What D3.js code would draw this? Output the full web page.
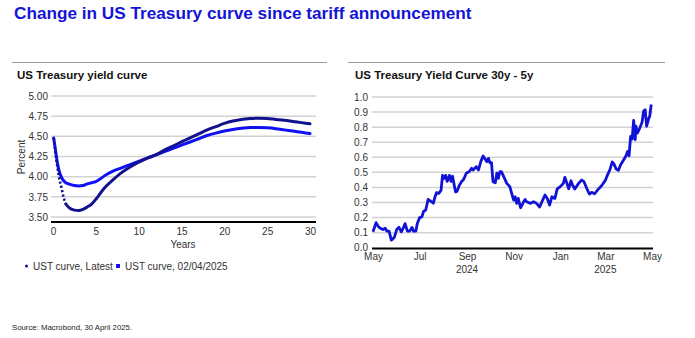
<!DOCTYPE html>
<html><head><meta charset="utf-8">
<script src="https://cdn.jsdelivr.net/npm/d3@7"></script>
<style>
html,body{margin:0;padding:0;background:#fff;}
svg{display:block;font-family:"Liberation Sans",Arial,sans-serif;}
</style></head>
<body>
<svg id="c" width="695" height="338"></svg>
<script>
// ---- Left chart data: maturities (years) and yields (%)
const maturitiesLatest = [0.08,0.25,0.5,0.75,1,1.25,1.5,2,2.5,3,3.5,4,4.5,5,5.5,6,7,8,9,10,11,12,13,14,15,16,17,18,19,20,21,22,23,24,25,26,27,28,29,30];
const yieldsLatest     = [4.48,4.33,4.13,3.97,3.86,3.74,3.66,3.605,3.585,3.58,3.595,3.625,3.66,3.72,3.79,3.86,3.96,4.05,4.12,4.18,4.23,4.27,4.33,4.38,4.43,4.48,4.53,4.58,4.62,4.66,4.69,4.71,4.72,4.725,4.72,4.71,4.70,4.685,4.67,4.655];
const maturitiesBase   = [0.08,0.25,0.5,0.75,1,1.25,1.5,2,2.5,3,3.5,4,4.5,5,5.5,6,7,8,9,10,11,12,13,14,15,16,17,18,19,20,21,22,23,24,25,26,27,28,29,30];
const yieldsBase       = [4.48,4.36,4.18,4.06,3.99,3.95,3.925,3.905,3.89,3.885,3.89,3.91,3.925,3.94,3.97,4.01,4.07,4.11,4.15,4.19,4.23,4.27,4.31,4.35,4.39,4.43,4.47,4.51,4.54,4.565,4.585,4.60,4.61,4.61,4.605,4.595,4.58,4.565,4.55,4.535];
const leftYTicks = [3.50,3.75,4.00,4.25,4.50,4.75,5.00];
const leftXTicks = [0,5,10,15,20,25,30];
const seriesNames = ["UST curve, Latest","UST curve, 02/04/2025"];

// ---- Right chart data: 30y - 5y spread
const spreadDates = ["2024-05-01","2024-05-05","2024-05-08","2024-05-10","2024-05-14","2024-05-17","2024-05-19","2024-05-22","2024-05-25","2024-05-29",
"2024-06-01","2024-06-04","2024-06-07","2024-06-10","2024-06-12","2024-06-15","2024-06-18","2024-06-21","2024-06-23","2024-06-26","2024-06-28",
"2024-07-01","2024-07-04","2024-07-06","2024-07-09","2024-07-12","2024-07-15","2024-07-19","2024-07-21","2024-07-23","2024-07-26","2024-07-29","2024-07-31",
"2024-08-02","2024-08-04","2024-08-06","2024-08-09","2024-08-11","2024-08-13","2024-08-17","2024-08-19","2024-08-22","2024-08-25","2024-08-27","2024-08-29","2024-08-31",
"2024-09-04","2024-09-07","2024-09-09","2024-09-13","2024-09-16","2024-09-19","2024-09-22","2024-09-25","2024-09-27","2024-09-29",
"2024-10-01","2024-10-03","2024-10-05","2024-10-08","2024-10-10","2024-10-12","2024-10-14","2024-10-16","2024-10-19","2024-10-21","2024-10-23","2024-10-27","2024-10-30",
"2024-11-01","2024-11-03","2024-11-05","2024-11-07","2024-11-10","2024-11-12","2024-11-14","2024-11-16","2024-11-18","2024-11-23","2024-11-27",
"2024-12-01","2024-12-05","2024-12-08","2024-12-12","2024-12-15","2024-12-18","2024-12-21","2024-12-25","2024-12-28",
"2025-01-01","2025-01-05","2025-01-07","2025-01-09","2025-01-12","2025-01-15","2025-01-17","2025-01-20","2025-01-25","2025-01-29",
"2025-02-01","2025-02-05","2025-02-08","2025-02-11","2025-02-15","2025-02-20","2025-02-24",
"2025-03-01","2025-03-04","2025-03-07","2025-03-10","2025-03-12","2025-03-15","2025-03-18","2025-03-21","2025-03-25","2025-03-28","2025-03-30",
"2025-04-01","2025-04-03","2025-04-05","2025-04-07","2025-04-09","2025-04-10","2025-04-12","2025-04-15","2025-04-18","2025-04-20","2025-04-22","2025-04-24","2025-04-27","2025-04-28","2025-04-30"];
const spreadValues = [0.106,0.166,0.14,0.13,0.12,0.13,0.11,0.11,0.05,0.07,
0.12,0.135,0.105,0.135,0.16,0.11,0.11,0.135,0.11,0.11,0.16,
0.20,0.205,0.24,0.25,0.32,0.31,0.295,0.335,0.365,0.36,0.38,0.48,
0.46,0.48,0.44,0.48,0.44,0.475,0.37,0.375,0.415,0.44,0.449,0.47,0.494,
0.505,0.527,0.516,0.538,0.516,0.571,0.608,0.586,0.571,0.593,
0.564,0.564,0.438,0.431,0.494,0.46,0.505,0.505,0.472,0.449,0.427,0.405,0.35,
0.316,0.338,0.294,0.327,0.265,0.283,0.305,0.32,0.305,0.294,0.305,
0.294,0.27,0.305,0.35,0.327,0.283,0.338,0.327,0.39,
0.405,0.427,0.467,0.438,0.39,0.444,0.416,0.39,0.427,0.449,
0.438,0.39,0.356,0.367,0.358,0.39,0.411,
0.447,0.485,0.518,0.569,0.558,0.523,0.513,0.551,0.584,0.61,0.638,
0.61,0.739,0.721,0.845,0.717,0.806,0.761,0.794,0.832,0.905,0.916,0.806,0.861,0.872,0.95];
const rightYTicks = [0,0.1,0.2,0.3,0.4,0.5,0.6,0.7,0.8,0.9,1.0];
const monthTicks = ["2024-05-01","2024-07-01","2024-09-01","2024-11-01","2025-01-01","2025-03-01","2025-05-01"];
const monthLabels = ["May","Jul","Sep","Nov","Jan","Mar","May"];
const yearLabels = ["","","2024","","","2025",""];

const svg = d3.select("#c");
const cNavy = "#12128e", cBlue = "#1010f5", cLine = "#1212d4";
const gridC = "#d2d2d2", tickC = "#333";

// Main title
svg.append("text").attr("x",14).attr("y",19).attr("fill","#1414d6")
  .attr("font-size",17.2).attr("font-weight","bold")
  .text("Change in US Treasury curve since tariff announcement");

// panel top rules
svg.append("line").attr("x1",12).attr("x2",327).attr("y1",62.5).attr("y2",62.5).attr("stroke","#9a9a9a").attr("stroke-width",1.2);
svg.append("line").attr("x1",348).attr("x2",665).attr("y1",62.5).attr("y2",62.5).attr("stroke","#9a9a9a").attr("stroke-width",1.2);

svg.append("text").attr("x",17).attr("y",79).attr("font-size",11.5).attr("font-weight","bold").attr("fill","#111").text("US Treasury yield curve");
svg.append("text").attr("x",355).attr("y",79).attr("font-size",11.5).attr("font-weight","bold").attr("fill","#111").text("US Treasury Yield Curve 30y - 5y");

// ---- Left chart
const xL = d3.scaleLinear().domain([0,30]).range([53,310]);
const yL = d3.scaleLinear().domain([3.5,5]).range([217,96]);
const gL = svg.append("g");
gL.selectAll("line.grid").data(leftYTicks).join("line")
  .attr("x1",51).attr("x2",316).attr("y1",d=>yL(d)).attr("y2",d=>yL(d))
  .attr("stroke",gridC).attr("stroke-width",1.5);
gL.append("line").attr("x1",51).attr("x2",316).attr("y1",222).attr("y2",222).attr("stroke","#000").attr("stroke-width",2);

const yAxL = d3.axisLeft(yL).tickValues(leftYTicks).tickFormat(d3.format(".2f")).tickSize(0).tickPadding(0);
const gyL = svg.append("g").attr("transform","translate(48,0)").call(yAxL);
gyL.select(".domain").remove();
gyL.selectAll("text").attr("font-size",10).attr("fill",tickC).attr("font-family","Liberation Sans, Arial, sans-serif");

const xAxL = d3.axisBottom(xL).tickValues(leftXTicks).tickSize(0).tickPadding(0);
const gxL = svg.append("g").attr("transform","translate(0,228)").call(xAxL);
gxL.select(".domain").remove();
gxL.selectAll("text").attr("font-size",10).attr("fill",tickC).attr("font-family","Liberation Sans, Arial, sans-serif");

svg.append("text").attr("x",183).attr("y",248).attr("text-anchor","middle").attr("font-size",10).attr("fill",tickC).text("Years");
svg.append("text").attr("transform","translate(25,157) rotate(-90)").attr("text-anchor","middle").attr("font-size",10).attr("fill",tickC).text("Percent");

const lineL = d3.line().x(d=>xL(d[0])).y(d=>yL(d[1])).curve(d3.curveMonotoneX);
const baseData = maturitiesBase.map((m,i)=>[m,yieldsBase[i]]);
const latestData = maturitiesLatest.map((m,i)=>[m,yieldsLatest[i]]);
svg.append("path").datum(baseData).attr("d",lineL).attr("fill","none").attr("stroke",cBlue).attr("stroke-width",3).attr("stroke-linecap","round");
// short end of latest curve is drawn as sparse dots in the reference
svg.append("path").datum(latestData.filter(d=>d[0]<=1.5)).attr("d",lineL).attr("fill","none").attr("stroke",cNavy).attr("stroke-width",2.6).attr("stroke-dasharray","2.2,2.2");
svg.append("path").datum(latestData.filter(d=>d[0]>=1.5)).attr("d",lineL).attr("fill","none").attr("stroke",cNavy).attr("stroke-width",3).attr("stroke-linecap","round");

// legend
svg.append("circle").attr("cx",26.5).attr("cy",266).attr("r",1.5).attr("fill",cNavy);
svg.append("text").attr("x",33).attr("y",269.5).attr("font-size",10).attr("fill",tickC).text(seriesNames[0]);
svg.append("rect").attr("x",116).attr("y",264).attr("width",4).attr("height",4).attr("fill",cBlue);
svg.append("text").attr("x",125).attr("y",269.5).attr("font-size",10).attr("fill",tickC).text(seriesNames[1]);

// ---- Right chart
const parse = d3.timeParse("%Y-%m-%d");
const xR = d3.scaleTime().domain([parse("2024-05-01"),parse("2025-05-01")]).range([373,652]);
const yR = d3.scaleLinear().domain([0,1]).range([247.7,97]);
const gR = svg.append("g");
gR.selectAll("line.grid").data(rightYTicks.slice(1)).join("line")
  .attr("x1",372).attr("x2",653).attr("y1",d=>yR(d)).attr("y2",d=>yR(d))
  .attr("stroke",gridC).attr("stroke-width",1.5);

const yAxR = d3.axisLeft(yR).tickValues(rightYTicks).tickFormat(d3.format(".1f")).tickSize(0).tickPadding(0);
const gyR = svg.append("g").attr("transform","translate(368,0)").call(yAxR);
gyR.select(".domain").remove();
gyR.selectAll("text").attr("font-size",10).attr("fill",tickC).attr("font-family","Liberation Sans, Arial, sans-serif");

const xAxR = d3.axisBottom(xR).tickValues(monthTicks.map(parse)).tickFormat((d,i)=>monthLabels[i]).tickSize(0).tickPadding(0);
const gxR = svg.append("g").attr("transform","translate(0,253)").call(xAxR);
gxR.select(".domain").remove();
gxR.selectAll("text").attr("font-size",10).attr("fill",tickC).attr("font-family","Liberation Sans, Arial, sans-serif");
svg.append("g").selectAll("text").data(monthTicks).join("text")
  .attr("x",d=>xR(parse(d))).attr("y",273).attr("text-anchor","middle").attr("font-size",10).attr("fill",tickC)
  .text((d,i)=>yearLabels[i]);

const spreadData = spreadDates.map((d,i)=>[parse(d),spreadValues[i]]);
const lineR = d3.line().x(d=>xR(d[0])).y(d=>yR(d[1]));
svg.append("path").datum(spreadData).attr("d",lineR).attr("fill","none").attr("stroke",cLine).attr("stroke-width",2.8).attr("stroke-linejoin","round");
gR.append("line").attr("x1",372).attr("x2",653).attr("y1",248.5).attr("y2",248.5).attr("stroke","#000").attr("stroke-width",2);

// source
svg.append("text").attr("x",12).attr("y",330).attr("font-size",7.8).attr("fill","#222").text("Source: Macrobond, 30 April 2025.");
</script>
</body></html>
